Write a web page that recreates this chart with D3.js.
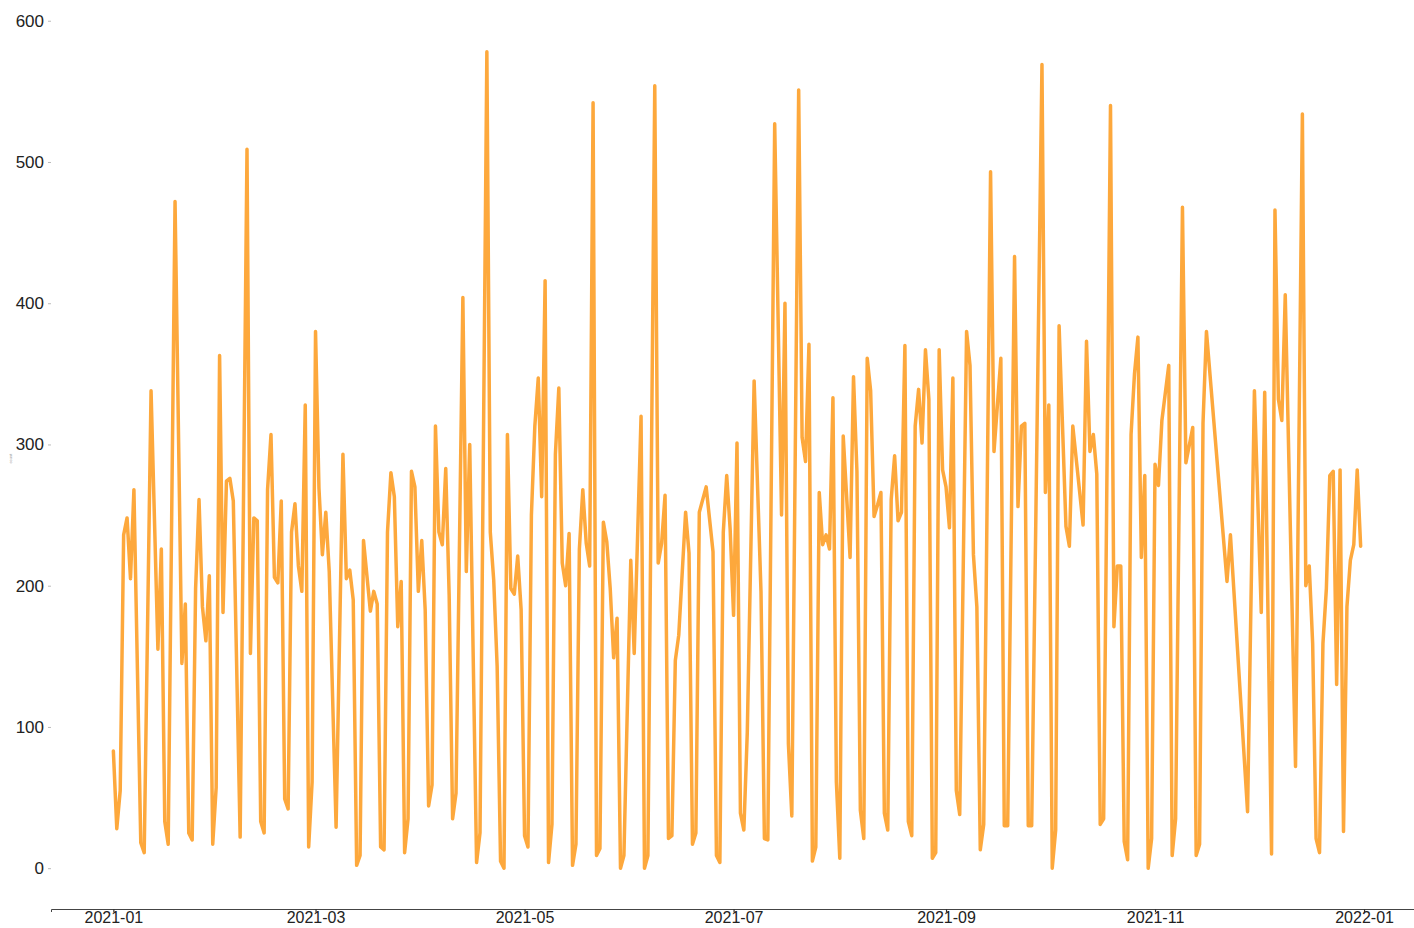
<!DOCTYPE html>
<html>
<head>
<meta charset="utf-8">
<script src="https://cdn.jsdelivr.net/npm/d3@7"></script>
<style>
  body { margin: 0; background: #fff; }
  text { font-family: "Liberation Sans", Arial, sans-serif; }
</style>
</head>
<body>
<svg id="chart" width="1414" height="928"></svg>
<script>
// daily counts for 2021, indexed by day offset from startDate (gaps are missing days)
var startDate = "2021-01-01";

var dayIndex = [
  0,1,2,3,4,5,6,8,9,11,13,14,15,16,18,20,21,22,23,24,25,26,27,28,29,30,31,32,33,34,35,37,39,40,41,42,
  43,44,45,46,47,48,49,50,51,52,53,54,55,56,57,58,59,60,61,62,63,65,67,68,69,70,71,72,73,75,76,77,78,79,
  80,81,82,83,84,85,86,87,88,89,90,91,92,93,94,95,96,97,98,99,100,102,103,104,106,107,109,110,111,112,113,114,
  115,116,117,118,119,120,121,122,123,124,125,126,127,128,129,130,131,132,133,134,135,136,137,138,139,140,
  141,142,143,144,145,146,147,148,149,151,152,154,155,156,158,159,160,161,162,163,164,165,167,168,169,170,
  171,173,175,176,177,178,179,180,181,182,183,184,185,187,189,190,191,193,195,196,197,198,200,201,202,203,
  204,205,206,207,208,209,210,211,212,213,215,216,217,218,219,220,221,222,223,224,225,226,227,228,229,230,
  231,232,233,234,235,236,237,238,239,240,241,242,243,244,245,246,247,249,250,251,252,253,254,256,257,259,
  260,261,263,264,265,266,267,268,271,272,273,274,275,276,278,279,280,283,284,285,286,287,288,289,291,292,
  293,294,295,296,297,298,299,300,301,302,303,304,305,306,308,309,310,312,313,315,316,317,318,319,325,326,
  331,333,335,336,338,339,340,341,342,345,347,348,349,350,351,352,353,354,355,356,357,358,359,360,361,362,
  363,364
];

var counts = [
  83,28,55,236,248,205,268,18,11,338,155,226,33,17,472,145,187,25,20,198,261,185,161,207,17,57,363,181,274,276,260,22,509,152,248,246,
  33,25,268,307,206,202,260,49,42,238,258,214,196,328,15,61,380,269,222,252,210,29,293,205,211,190,2,9,232,182,196,187,15,13,
  238,280,263,171,203,11,35,281,270,196,232,183,44,59,313,238,229,283,193,35,53,404,210,300,4,25,578,238,204,143,5,0,
  307,198,194,221,183,23,15,250,313,347,263,416,4,31,293,340,216,200,237,2,17,226,268,230,214,542,
  9,14,245,231,198,149,177,0,9,218,152,320,0,9,554,216,230,264,21,23,147,165,252,223,17,25,
  252,270,224,9,4,238,278,240,179,301,39,27,96,345,196,21,20,527,250,400,88,37,551,305,288,371,
  5,15,266,229,236,226,333,61,7,306,220,348,281,41,21,361,338,249,257,266,39,27,261,292,246,252,
  370,33,23,313,339,301,367,332,7,11,367,282,270,241,347,55,38,380,356,222,185,13,31,493,295,361,
  30,30,433,256,313,315,30,30,569,266,328,0,27,384,242,228,313,243,373,295,307,279,31,35,540,171,
  214,214,19,6,307,350,376,220,278,0,21,286,271,317,356,9,35,468,287,312,9,17,315,380,203,236,
  40,338,181,337,10,466,332,317,406,72,534,200,214,159,21,11,159,198,278,281,130,282,26,185,218,229,
  282,228
];

var yTicks = [0, 100, 200, 300, 400, 500, 600];
var yLabel = "count";

var svg = d3.select("#chart");
var margin = {left: 51, right: 1423, top: 11, bottom: 909};

var t0 = new Date(startDate + "T00:00:00Z");
var dates = dayIndex.map(function(d) { return d3.utcDay.offset(t0, d); });
var data = dates.map(function(d, i) { return {date: d, value: counts[i]}; });

// matplotlib style 5% padding on both axes
var tMin = d3.min(dates), tMax = d3.max(dates);
var tPad = (tMax - tMin) * 0.05;
var vMax = d3.max(counts);
var vPad = vMax * 0.05;

var x = d3.scaleUtc()
  .domain([new Date(+tMin - tPad), new Date(+tMax + tPad)])
  .range([margin.left, margin.right]);

var y = d3.scaleLinear()
  .domain([-vPad, vMax + vPad])
  .range([margin.bottom, margin.top]);

// x axis
var xAxis = svg.append("g")
  .attr("transform", "translate(0," + margin.bottom + ")")
  .call(d3.axisBottom(x)
    .ticks(d3.utcMonth.every(2))
    .tickFormat(d3.utcFormat("%Y-%m"))
    .tickSize(3)
    .tickPadding(0));
xAxis.select(".domain").attr("stroke", "#444").attr("stroke-width", 1);
xAxis.selectAll(".tick line").attr("stroke", "#333").attr("stroke-width", 1.2);
xAxis.selectAll(".tick text")
  .attr("fill", "#222")
  .attr("font-size", 16);

// y axis, no spine
var yAxis = svg.append("g")
  .attr("transform", "translate(" + margin.left + ",0)")
  .call(d3.axisLeft(y)
    .tickValues(yTicks)
    .tickSize(3)
    .tickPadding(4));
yAxis.select(".domain").remove();
yAxis.selectAll(".tick line").attr("stroke", "#bbb").attr("stroke-width", 1);
yAxis.selectAll(".tick text")
  .attr("fill", "#222")
  .attr("font-size", 17);

svg.append("text")
  .attr("transform", "translate(12," + y(300 - 10) + ") rotate(-90)")
  .attr("text-anchor", "middle")
  .attr("font-size", 4)
  .attr("fill", "#999")
  .text(yLabel);

var line = d3.line()
  .x(function(d) { return x(d.date); })
  .y(function(d) { return y(d.value); });

svg.append("path")
  .datum(data)
  .attr("fill", "none")
  .attr("stroke", "#fda83c")
  .attr("stroke-width", 3.5)
  .attr("stroke-linejoin", "round")
  .attr("stroke-linecap", "round")
  .attr("d", line);
</script>
</body>
</html>
